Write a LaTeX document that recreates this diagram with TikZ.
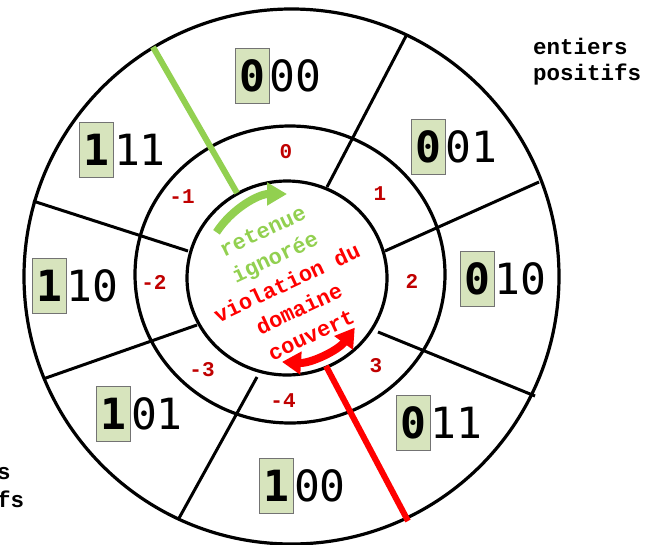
\documentclass[tikz,border=0pt]{standalone}
\usepackage{fontspec}
\setmonofont{Liberation Mono}
\newfontfamily\binfont{DejaVu Sans Mono}
\usetikzlibrary{arrows.meta}
\definecolor{gline}{HTML}{92D050}
\definecolor{dred}{HTML}{C00000}
\definecolor{boxfill}{HTML}{D7E4BD}
\begin{document}
\begin{tikzpicture}[x=1pt,y=-1pt,
  ring/.style={line width=3.2pt},
  divider/.style={line width=3pt},
  firstbit/.style={draw=black!55, fill=boxfill, line width=0.8pt, minimum width=34pt, minimum height=55pt, inner sep=0pt, font=\binfont\bfseries\fontsize{43}{43}\selectfont},
  restbits/.style={anchor=base west, inner sep=0pt, font=\binfont\fontsize{43}{43}\selectfont},
  val/.style={text=dred, font=\ttfamily\bfseries\fontsize{21}{21}\selectfont, inner sep=0pt},
  note/.style={anchor=base west, inner sep=0pt, font=\ttfamily\bfseries\fontsize{22.5}{22.5}\selectfont},
]
\useasboundingbox (0,0) rectangle (666,544);
% rings
\draw[ring] (291.5,276.5) ellipse[x radius=267.5pt, y radius=267.5pt];
\draw[ring] (290,274.5) ellipse[x radius=155pt, y radius=148.5pt];
\draw[ring] (287,278) ellipse[x radius=100pt, y radius=97pt];
% dividers
\coordinate (i1) at (327,187); \coordinate (o1) at (406,36);
\coordinate (i2) at (385,251); \coordinate (o2) at (539,182);
\coordinate (i3) at (378,332); \coordinate (o3) at (535,396);
\coordinate (i5) at (257,377); \coordinate (o5) at (178,520);
\coordinate (i6) at (197,325); \coordinate (o6) at (43,379);
\coordinate (i7) at (188,251); \coordinate (o7) at (33,201);
\foreach \k in {1,2,3,5,6,7} \draw[divider] (i\k) -- (o\k);
\coordinate (gi) at (237,193); \coordinate (go) at (153,47);
\coordinate (ri) at (326,366); \coordinate (ro) at (408,521);
\draw[line width=6pt, gline] (gi) -- (go);
\draw[line width=6pt, red] (ri) -- (ro);
% binary labels
\node[firstbit] (b000) at (252,76) {0};
\node[restbits] (r000) at (b000.base east) {00};
\node[firstbit] (b001) at (428,146.5) {0};
\node[restbits] (r001) at (b001.base east) {01};
\node[firstbit] (b010) at (477,279) {0};
\node[restbits] (r010) at (b010.base east) {10};
\node[firstbit] (b011) at (413,422.5) {0};
\node[restbits] (r011) at (b011.base east) {11};
\node[firstbit] (b100) at (276.5,485.5) {1};
\node[restbits] (r100) at (b100.base east) {00};
\node[firstbit] (b101) at (113.5,413.5) {1};
\node[restbits] (r101) at (b101.base east) {01};
\node[firstbit] (b110) at (49,285.5) {1};
\node[restbits] (r110) at (b110.base east) {10};
\node[firstbit] (b111) at (96.5,150) {1};
\node[restbits] (r111) at (b111.base east) {11};
% values
\node[val] (v0) at (286,152) {0};
\node[val] (v1) at (380,194) {1};
\node[val] (v2) at (412,281) {2};
\node[val] (v3) at (376,366) {3};
\node[val] (v4) at (283,401) {-4};
\node[val] (v5) at (202,370) {-3};
\node[val] (v6) at (154,282) {-2};
\node[val] (v7) at (182,197) {-1};
% side notes
\node[note] (p1) at (533,54) {entiers};
\node[note] (p2) at (533,80) {positifs};
\node[note] (n1) at (-84,479) {entiers};
\node[note] (n2) at (-84,507) {négatifs};
% centre text
\node[rotate=25, align=center, inner sep=0pt, font=\ttfamily\bfseries\fontsize{22}{28.7}\selectfont] (ctext) at (287,283)
  {\textcolor{gline}{retenue}\\\textcolor{gline}{ignorée}\\\textcolor{red}{violation du}\\\textcolor{red}{domaine}\\\textcolor{red}{couvert}};
% arrows
\coordinate (ga) at (216.5,232.3); \coordinate (gb) at (287,194);
\draw[gline, line width=8pt, -{Triangle[width=22pt,length=20pt]}] (ga) .. controls (232,208.5) and (258.6,194) .. (gb);
\coordinate (ra) at (282,361.9); \coordinate (rb) at (354.8,327.6);
\draw[red, line width=8pt, {Triangle[width=22pt,length=19pt]}-{Triangle[width=22pt,length=19pt]}] (ra) .. controls (310.4,363.6) and (338,350.6) .. (rb);
\end{tikzpicture}
\end{document}
